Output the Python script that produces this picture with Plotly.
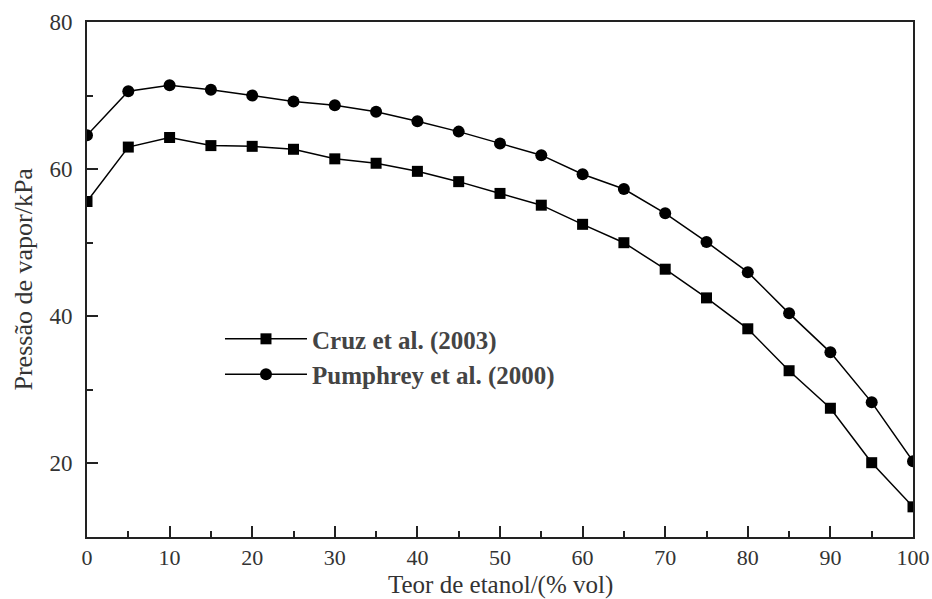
import plotly.graph_objects as go

teor = [0, 5, 10, 15, 20, 25, 30, 35, 40, 45, 50, 55, 60, 65, 70, 75, 80, 85, 90, 95, 100]
cruz = [55.6, 63.0, 64.3, 63.2, 63.1, 62.7, 61.4, 60.8, 59.7, 58.3, 56.7, 55.1, 52.5, 50.0, 46.4, 42.5, 38.3, 32.6, 27.5, 20.1, 14.1]
pumphrey = [64.6, 70.6, 71.4, 70.8, 70.0, 69.2, 68.7, 67.8, 66.5, 65.1, 63.5, 61.9, 59.3, 57.3, 54.0, 50.1, 46.0, 40.4, 35.1, 28.3, 20.3]
names = ["Cruz et al. (2003)", "Pumphrey et al. (2000)"]
x_title = "Teor de etanol/(% vol)"
y_title = "Pressão de vapor/kPa"

fig = go.Figure()
fig.add_trace(go.Scatter(x=teor, y=cruz, mode="lines+markers", name=names[0],
                         line=dict(color="black", width=1.5),
                         marker=dict(symbol="square", size=11, color="black")))
fig.add_trace(go.Scatter(x=teor, y=pumphrey, mode="lines+markers", name=names[1],
                         line=dict(color="black", width=1.5),
                         marker=dict(symbol="circle", size=12, color="black")))

font_family = "Liberation Serif"
fig.update_layout(
    width=932, height=599,
    margin=dict(l=87, r=19, t=22, b=62, autoexpand=False),
    paper_bgcolor="white", plot_bgcolor="white",
    font=dict(family=font_family, size=22, color="#333"),
    showlegend=True,
    legend=dict(x=0.161, y=0.429, xanchor="left", yanchor="top",
                bgcolor="white", borderwidth=0,
                font=dict(family=font_family, size=25, color="#444", weight="bold"),
                itemwidth=82, tracegroupgap=0),
    annotations=[
        dict(text=x_title, xref="paper", yref="paper", x=0.5, y=0, xanchor="center",
             yanchor="middle", yshift=-48, showarrow=False,
             font=dict(family=font_family, size=25, color="#333")),
        dict(text=y_title, xref="paper", yref="paper", x=0, y=0.5, xanchor="center",
             yanchor="middle", xshift=-64, textangle=-90, showarrow=False,
             font=dict(family=font_family, size=26, color="#333")),
    ],
)
fig.update_xaxes(range=[0, 100], tickvals=[0, 10, 20, 30, 40, 50, 60, 70, 80, 90, 100],
                 ticks="inside", ticklen=11, tickwidth=1.5, tickcolor="#222",
                 minor=dict(dtick=5, tick0=0, ticks="inside", ticklen=6, tickwidth=1.5, tickcolor="#222"),
                 showline=True, linecolor="#222", linewidth=2, mirror=True,
                 showgrid=False, zeroline=False,
                 tickfont=dict(size=22))
fig.update_yaxes(range=[10, 80], tickvals=[20, 40, 60, 80],
                 ticks="inside", ticklen=11, tickwidth=1.5, tickcolor="#222",
                 minor=dict(dtick=10, tick0=0, ticks="inside", ticklen=6, tickwidth=1.5, tickcolor="#222"),
                 showline=True, linecolor="#222", linewidth=2, mirror=True,
                 showgrid=False, zeroline=False, ticklabelstandoff=8,
                 tickfont=dict(size=23))

fig.write_html("out.html", config={"displayModeBar": False},
               post_script="document.body.style.margin='0';")
